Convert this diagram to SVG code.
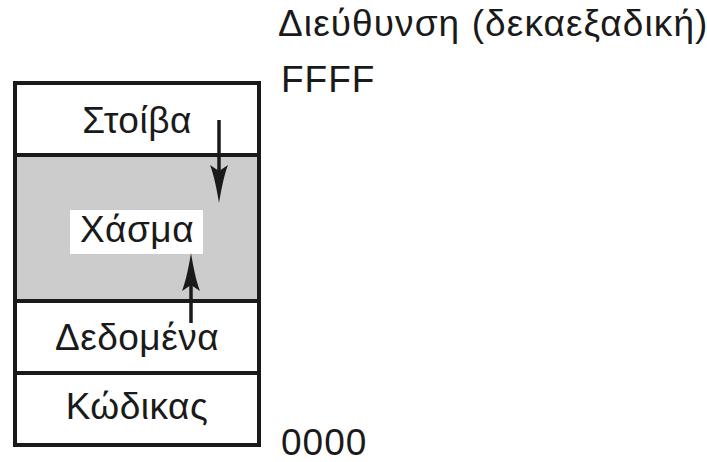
<svg xmlns="http://www.w3.org/2000/svg" width="707" height="462" viewBox="0 0 707 462">
  <style>
    text { font-family: "Liberation Sans", Arial, sans-serif; font-size: 37px; letter-spacing: 0.5px; fill: #1a1a1a; }
    .mid { text-anchor: middle; }
    .wide { letter-spacing: 1px; }
    .title { letter-spacing: 1.1px; }
    .seg { stroke: #1a1a1a; stroke-width: 4; }
    .shaft { stroke: #1a1a1a; stroke-width: 3.5; fill: none; }
  </style>
  <defs>
    <!-- long slender arrowhead with slightly concave flanks -->
    <path id="head" d="M0,0 C-2,12 -5,28 -9,38 L0,32 L9,38 C5,28 2,12 0,0 Z" fill="#1a1a1a"/>
  </defs>

  <rect width="707" height="462" fill="#ffffff"/>

  <!-- memory segments, top to bottom -->
  <g id="stack">
    <rect class="seg" x="15" y="83" width="244" height="72" fill="#ffffff"/>
    <text class="mid" x="137" y="133">Στοίβα</text>
  </g>
  <g id="gap">
    <rect class="seg" x="15" y="155" width="244" height="146" fill="#cccccc"/>
    <rect x="70" y="210" width="133" height="44" fill="#ffffff"/>
    <text class="mid" x="137" y="242">Χάσμα</text>
  </g>
  <g id="data">
    <rect class="seg" x="15" y="301" width="244" height="72" fill="#ffffff"/>
    <text class="mid" x="137" y="350">Δεδομένα</text>
  </g>
  <g id="code">
    <rect class="seg" x="15" y="373" width="244" height="72" fill="#ffffff"/>
    <text class="mid" x="137" y="419">Κώδικας</text>
  </g>

  <!-- growth directions -->
  <g id="connectors">
    <line class="shaft" x1="219" y1="120" x2="219" y2="175"/>
    <use href="#head" transform="translate(219,203) rotate(180)"/>
    <line class="shaft" x1="191" y1="323" x2="191" y2="280"/>
    <use href="#head" transform="translate(191,253)"/>
  </g>

  <!-- address labels -->
  <g id="addresses">
    <text class="title" x="278" y="36">Διεύθυνση (δεκαεξαδική)</text>
    <text class="wide" x="281" y="92">FFFF</text>
    <text class="wide" x="281" y="455">0000</text>
  </g>
</svg>
